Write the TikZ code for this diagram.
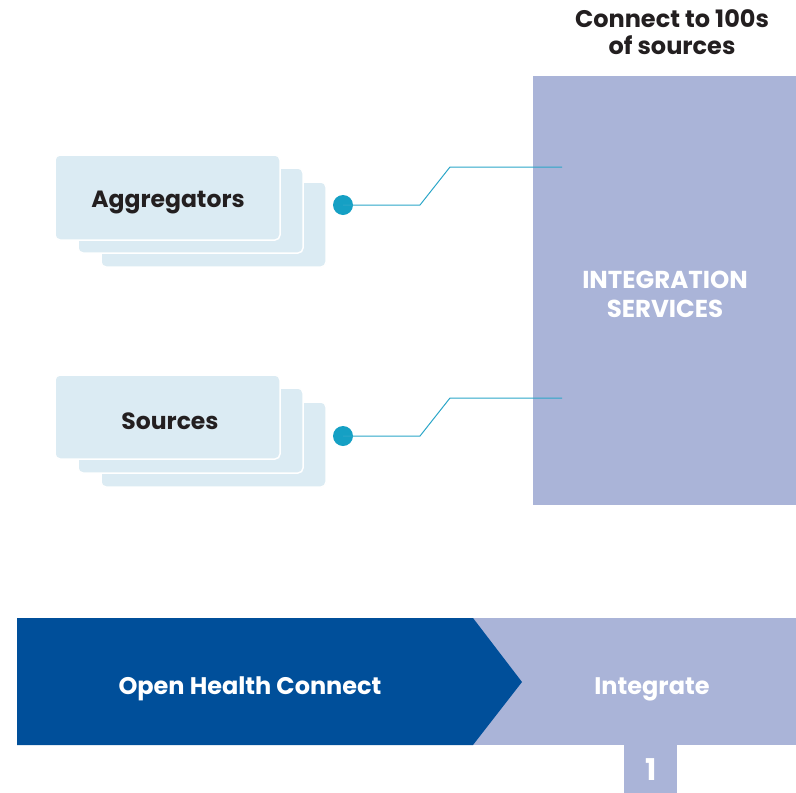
\documentclass[tikz,border=0pt]{standalone}
\usepackage{fontspec}
\setmainfont{Poppins}
\definecolor{svcblue}{HTML}{AAB4D8}
\definecolor{cardblue}{HTML}{DBEBF3}
\definecolor{darkblue}{HTML}{004F9A}
\definecolor{linkblue}{HTML}{2BA6C8}
\definecolor{dotblue}{HTML}{15A0C4}
\definecolor{txtdark}{HTML}{231F20}
\tikzset{
  card/.style={fill=cardblue, draw=white, line width=1.5pt, rounded corners=5pt},
  cardtext/.style={font=\bfseries\fontsize{23.5}{27}\selectfont, text=txtdark},
  dot/.style={circle, fill=dotblue, inner sep=0pt, minimum size=20pt},
  link/.style={linkblue, line width=1pt},
  whitetext/.style={font=\bfseries\fontsize{24}{29}\selectfont, text=white, align=center}
}
\begin{document}
\begin{tikzpicture}[x=1pt, y=-1pt]
\useasboundingbox (0,0) rectangle (796,793);
% integration services block
\fill[svcblue] (533,76) rectangle (796,505);
\node[whitetext, font=\bfseries\fontsize{24.5}{29}\selectfont] (svc) at (665,294) {INTEGRATION\\SERVICES};
\node[cardtext, font=\bfseries\fontsize{24}{27}\selectfont, align=center] (head) at (672,32) {Connect to 100s\\of sources};
% card stacks
\draw[card] (101,182) rectangle (326,267);
\draw[card] (78,168) rectangle (303,253);
\draw[card] (55,155) rectangle (280,240);
\node[cardtext] (agg) at (168,202) {Aggregators};
\draw[card] (101,402) rectangle (326,487);
\draw[card] (78,388) rectangle (303,473);
\draw[card] (55,375) rectangle (280,459);
\node[cardtext] (src) at (170,421) {Sources};
% connectors
\node[dot] (d1) at (343,205) {};
\node[dot] (d2) at (343,436) {};
\coordinate (k1) at (420,205);
\coordinate (j1) at (450,167);
\coordinate (e1) at (562,167);
\coordinate (k2) at (420,436);
\coordinate (j2) at (450,398);
\coordinate (e2) at (562,398);
\draw[link] (d1.center) -- (k1) -- (j1) -- (e1);
\draw[link] (d2.center) -- (k2) -- (j2) -- (e2);
% bottom band
\fill[svcblue] (473,618) rectangle (796,745);
\fill[darkblue] (17,618) -- (473,618) -- (522,682) -- (473,745) -- (17,745) -- cycle;
\fill[svcblue] (624,745) rectangle (677,793);
\node[whitetext] (ohc) at (250,689) {Open Health Connect};
\node[whitetext] (int) at (652,689) {Integrate};
\node[whitetext, font=\bfseries\fontsize{30}{34}\selectfont] (num) at (651,770) {1};
\end{tikzpicture}
\end{document}
